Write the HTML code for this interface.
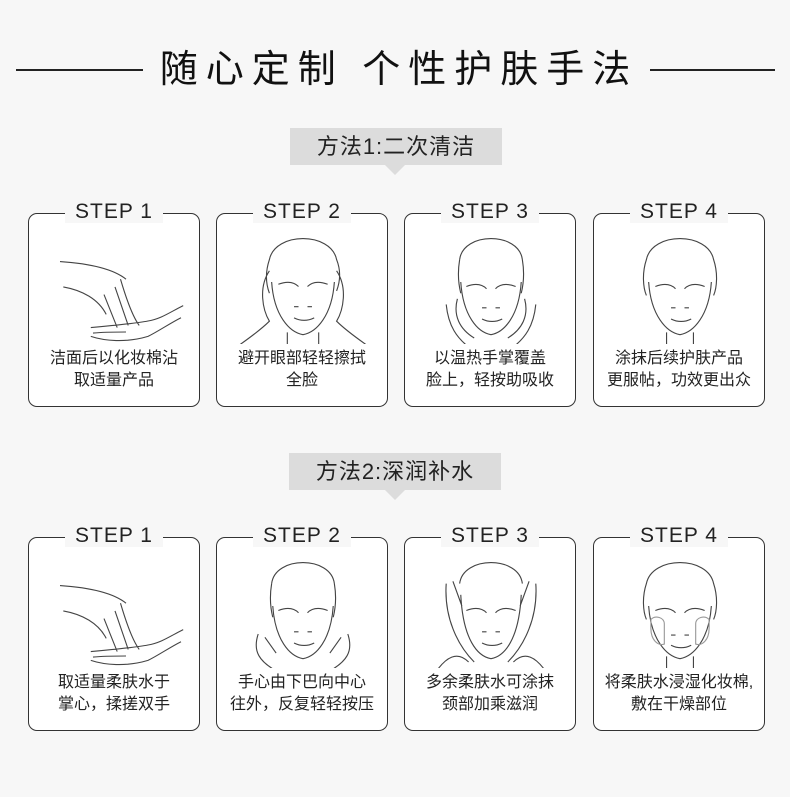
<!DOCTYPE html>
<html><head><meta charset="utf-8">
<style>
*{margin:0;padding:0;box-sizing:border-box}
body{width:790px;height:797px;background:#f7f7f7;position:relative;overflow:hidden;font-family:"Liberation Sans","Noto Sans CJK SC",sans-serif;color:#222}
.abs{position:absolute}
.title{left:4px;width:790px;top:42px;text-align:center;font-size:38px;letter-spacing:8px;line-height:56px;color:#111}
.hl{height:1.5px;background:#222;top:69px}
.lab{width:212px;height:37px;background:#dcdcdc;text-align:center;font-size:22px;line-height:37px;color:#222;letter-spacing:1px}
.tri{width:0;height:0;border-left:10px solid transparent;border-right:10px solid transparent;border-top:10px solid #dcdcdc}
.card{width:172px;height:194px;background:#fff;border:1.5px solid #333;border-radius:9px}
.step{position:absolute;top:-15px;left:0;width:100%;text-align:center}
.step span{background:#f7f7f7;padding:0 10px;font-size:21px;line-height:26px;letter-spacing:1px;color:#222}
.card svg{position:absolute;left:16px;top:18px}
.cap{position:absolute;left:0;width:100%;top:134px;text-align:center;font-size:16px;line-height:22px;color:#222}
</style></head><body>
<div class="abs hl" style="left:16px;width:127px"></div>
<div class="abs hl" style="left:650px;width:125px"></div>
<div class="abs title">随心定制 个性护肤手法</div>

<div class="abs lab" style="left:290px;top:128px">方法1:二次清洁</div>
<div class="abs tri" style="left:385px;top:165px"></div>
<div class="abs lab" style="left:289px;top:453px">方法2:深润补水</div>
<div class="abs tri" style="left:385px;top:490px"></div>

<!-- row1 -->
<div class="abs card" style="left:28px;top:213px"><div class="step"><span>STEP 1</span></div>
<svg width="140" height="112" viewBox="0 0 140 112" fill="none" stroke="#444" stroke-width="1"><g transform="translate(70,56) scale(1.1) translate(-70,-56)"><path d="M20 32 C50 34 70 40 80 48 M23 55 C40 58 55 66 62 80 M75 48 C80 65 86 82 92 90 M70 55 L82 90 M60 62 L72 92 M48 92 C70 90 90 88 100 86 C112 84 120 78 132 72 M130 83 C120 88 110 95 100 100 C80 106 60 104 48 100 M50 97 C60 96 70 96 80 96"/></g></svg>
<div class="cap">洁面后以化妆棉沾<br>取适量产品</div></div>

<div class="abs card" style="left:216px;top:213px"><div class="step"><span>STEP 2</span></div>
<svg width="140" height="112" viewBox="0 0 140 112" fill="none" stroke="#444" stroke-width="1"><g transform="translate(70,50) scale(1.12) translate(-70,-50)"><path d="M40 30 C45 5 95 5 100 30 C104 40 103 50 100 58 M40 30 C36 42 37 52 40 60 M42 50 C44 80 58 95 70 97 C82 95 96 80 98 50 M48 52 C56 49 62 50 66 54 M74 54 C78 50 84 49 92 52 M62 72 L66 72 M74 72 L78 72 M62 82 C68 85 74 85 80 82 M40 40 C30 55 34 75 40 85 C30 95 15 105 5 112 M100 40 C110 55 106 75 100 85 C110 95 125 105 135 112 M56 95 L56 112 M84 95 L84 112"/></g></svg>
<div class="cap">避开眼部轻轻擦拭<br>全脸</div></div>

<div class="abs card" style="left:404px;top:213px"><div class="step"><span>STEP 3</span></div>
<svg width="140" height="112" viewBox="0 0 140 112" fill="none" stroke="#444" stroke-width="1"><g transform="translate(70,50) scale(1.12) translate(-70,-50)"><path d="M42 30 C45 5 95 5 98 30 C100 42 99 52 97 60 M42 30 C40 42 41 52 43 60 M43 50 C45 80 58 95 70 97 C82 95 95 80 97 50 M48 54 C56 51 62 52 66 56 M74 56 C78 52 84 51 92 54 M62 73 L66 73 M74 73 L78 73 M62 83 C68 86 74 86 80 83 M40 65 C36 80 42 92 55 100 M100 65 C104 80 98 92 85 100 M30 70 C32 90 40 100 50 108 M110 70 C108 90 100 100 90 108"/></g></svg>
<div class="cap">以温热手掌覆盖<br>脸上，轻按助吸收</div></div>

<div class="abs card" style="left:593px;top:213px"><div class="step"><span>STEP 4</span></div>
<svg width="140" height="112" viewBox="0 0 140 112" fill="none" stroke="#444" stroke-width="1"><g transform="translate(70,50) scale(1.12) translate(-70,-50)"><path d="M40 30 C45 5 95 5 100 30 C104 42 103 55 100 62 M40 30 C36 42 37 55 40 62 M42 50 C44 80 58 95 70 97 C82 95 96 80 98 50 M48 54 C56 51 62 52 66 56 M74 56 C78 52 84 51 92 54 M62 73 L66 73 M74 73 L78 73 M62 83 C68 86 74 86 80 83 M58 95 L58 112 M82 95 L82 112"/></g></svg>
<div class="cap">涂抹后续护肤产品<br>更服帖，功效更出众</div></div>

<!-- row2 -->
<div class="abs card" style="left:28px;top:537px"><div class="step"><span>STEP 1</span></div>
<svg width="140" height="112" viewBox="0 0 140 112" fill="none" stroke="#444" stroke-width="1"><g transform="translate(70,56) scale(1.1) translate(-70,-56)"><path d="M20 32 C50 34 70 40 80 48 M23 55 C40 58 55 66 62 80 M75 48 C80 65 86 82 92 90 M70 55 L82 90 M60 62 L72 92 M48 92 C70 90 90 88 100 86 C112 84 120 78 132 72 M130 83 C120 88 110 95 100 100 C80 106 60 104 48 100 M50 97 C60 96 70 96 80 96"/></g></svg>
<div class="cap">取适量柔肤水于<br>掌心，揉搓双手</div></div>

<div class="abs card" style="left:216px;top:537px"><div class="step"><span>STEP 2</span></div>
<svg width="140" height="112" viewBox="0 0 140 112" fill="none" stroke="#444" stroke-width="1"><g transform="translate(70,50) scale(1.12) translate(-70,-50)"><path d="M42 30 C45 5 95 5 98 30 C100 42 99 52 97 60 M42 30 C40 42 41 52 43 60 M43 50 C45 80 58 95 70 97 C82 95 95 80 97 50 M48 54 C56 51 62 52 66 56 M74 56 C78 52 84 51 92 54 M62 73 L66 73 M74 73 L78 73 M62 83 C68 86 74 86 80 83 M30 75 C25 90 30 100 50 110 M110 75 C115 90 110 100 90 110 M36 78 L46 92 M104 78 L94 92"/></g></svg>
<div class="cap">手心由下巴向中心<br>往外，反复轻轻按压</div></div>

<div class="abs card" style="left:404px;top:537px"><div class="step"><span>STEP 3</span></div>
<svg width="140" height="112" viewBox="0 0 140 112" fill="none" stroke="#444" stroke-width="1"><g transform="translate(70,50) scale(1.12) translate(-70,-50)"><path d="M42 30 C45 5 95 5 98 30 M43 40 C45 80 58 95 70 97 C82 95 95 80 97 40 M48 54 C56 51 62 52 66 56 M74 56 C78 52 84 51 92 54 M62 73 L66 73 M74 73 L78 73 M62 83 C68 86 74 86 80 83 M30 30 C28 60 40 85 55 100 M110 30 C112 60 100 85 85 100 M36 28 L44 50 M104 28 L96 50 M20 110 C30 95 40 90 50 100 M120 110 C110 95 100 90 90 100"/></g></svg>
<div class="cap">多余柔肤水可涂抹<br>颈部加乘滋润</div></div>

<div class="abs card" style="left:593px;top:537px"><div class="step"><span>STEP 4</span></div>
<svg width="140" height="112" viewBox="0 0 140 112" fill="none" stroke="#444" stroke-width="1"><g transform="translate(70,50) scale(1.12) translate(-70,-50)"><path d="M40 30 C45 5 95 5 100 30 C104 42 103 55 100 62 M40 30 C36 42 37 55 40 62 M42 50 C44 80 58 95 70 97 C82 95 96 80 98 50 M48 54 C56 51 62 52 66 56 M74 56 C78 52 84 51 92 54 M62 76 L66 76 M74 76 L78 76 M62 85 C68 88 74 88 80 85 M58 95 L58 112 M82 95 L82 112"/><path d="M44 62 C48 58 56 60 56 66 L56 84 C50 86 44 80 44 70 Z M96 62 C92 58 84 60 84 66 L84 84 C90 86 96 80 96 70 Z" stroke="#999"/></g></svg>
<div class="cap">将柔肤水浸湿化妆棉,<br>敷在干燥部位</div></div>
</body></html>
